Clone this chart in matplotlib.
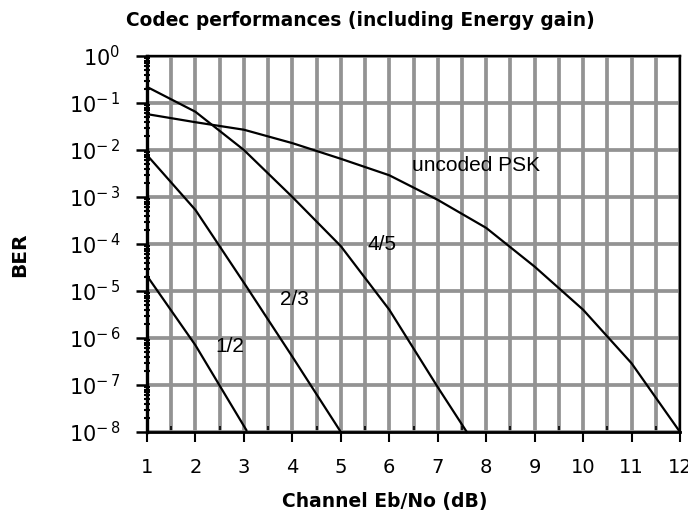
import matplotlib
matplotlib.use("Agg")
import matplotlib.pyplot as plt
from matplotlib.ticker import FixedLocator, LogLocator, MultipleLocator, NullFormatter

# Eb/No (dB) and BER values
psk_x = [1, 2, 3, 4, 5, 6, 7, 8, 9, 10, 11, 12]
psk_ber = [5.8e-2, 3.9e-2, 2.7e-2, 1.4e-2, 6.5e-3, 2.9e-3, 8.7e-4, 2.2e-4, 3.3e-5, 4.0e-6, 2.9e-7, 1.0e-8]

r45_x = [1, 2, 3, 4, 5, 6, 7, 7.6]
r45_ber = [2.2e-1, 6.5e-2, 1.0e-2, 1.0e-3, 9.0e-5, 4.0e-6, 9.0e-8, 1.0e-8]

r23_x = [1, 2, 3, 4, 5]
r23_ber = [7.8e-3, 5.3e-4, 1.5e-5, 4.0e-7, 1.0e-8]

r12_x = [1, 2, 3.05]
r12_ber = [2.1e-5, 7.0e-7, 1.1e-8]

x_ticks = list(range(1, 13))
y_exps = list(range(-8, 1))

tick_font = "DejaVu Sans"
label_font = "Liberation Sans"

fig = plt.figure(figsize=(6.88, 5.12), dpi=100)
ax = fig.add_axes([147 / 688, 1 - 432 / 512, 533 / 688, 376 / 512])

for xs, ys in [(psk_x, psk_ber), (r45_x, r45_ber), (r23_x, r23_ber), (r12_x, r12_ber)]:
    ax.plot(xs, ys, color='black', linewidth=1.6, zorder=3, clip_on=False)

ax.set_yscale('log')
ax.set_xlim(1, 12)
ax.set_ylim(1e-8, 1)

# ticks
ax.xaxis.set_major_locator(FixedLocator(x_ticks))
ax.xaxis.set_minor_locator(MultipleLocator(0.5))
ax.set_xticklabels([str(t) for t in x_ticks], fontsize=14, family=tick_font)

ax.yaxis.set_major_locator(FixedLocator([10.0 ** e for e in y_exps]))
ax.yaxis.set_minor_locator(LogLocator(base=10, subs=range(2, 10), numticks=20))
ax.yaxis.set_minor_formatter(NullFormatter())
ax.set_yticklabels([r'$\mathregular{10^{%s}}$' % (str(e) if e == 0 else r'-\,%d' % -e)
                    for e in y_exps], fontsize=15, family=tick_font)

ax.tick_params(axis='x', which='major', direction='out', length=7, width=1.5, pad=12)
ax.tick_params(axis='x', which='minor', direction='in', length=4, width=1.2)
ax.tick_params(axis='y', which='major', direction='out', length=8, width=1.8, pad=11)
ax.tick_params(axis='y', which='minor', direction='inout', length=5, width=1.5)

# grid: horizontal at decades, vertical every 0.5 dB
ax.grid(axis='y', which='major', color='#939393', linewidth=2.7)
ax.grid(axis='x', which='both', color='#939393', linewidth=2.7)
ax.set_axisbelow(True)

ax.spines['left'].set_linewidth(2.4)
ax.spines['bottom'].set_linewidth(2.0)
ax.spines['top'].set_linewidth(1.7)
ax.spines['right'].set_linewidth(1.7)
for s in ax.spines.values():
    s.set_zorder(4)

# curve labels
ax.text(6.46, 10 ** -2.34, 'uncoded PSK', fontsize=15, family=label_font, va='center', zorder=5)
ax.text(5.56, 10 ** -4.0, '4/5', fontsize=15, family=label_font, va='center', zorder=5)
ax.text(3.74, 10 ** -5.19, '2/3', fontsize=15, family=label_font, va='center', zorder=5)
ax.text(2.42, 10 ** -6.19, '1/2', fontsize=15, family=label_font, va='center', zorder=5)

fig.text(360 / 688, 1 - 20 / 512, 'Codec performances (including Energy gain)',
         ha='center', va='center', fontsize=13.4, fontweight='bold', family=tick_font)
fig.text(385 / 688, 1 - 502 / 512, 'Channel Eb/No (dB)',
         ha='center', va='center', fontsize=13.5, fontweight='bold', family=tick_font)
fig.text(20 / 688, 1 - 255 / 512, 'BER', rotation=90,
         ha='center', va='center', fontsize=14.5, fontweight='bold', family=tick_font)

fig.savefig('out.png', dpi=100)
